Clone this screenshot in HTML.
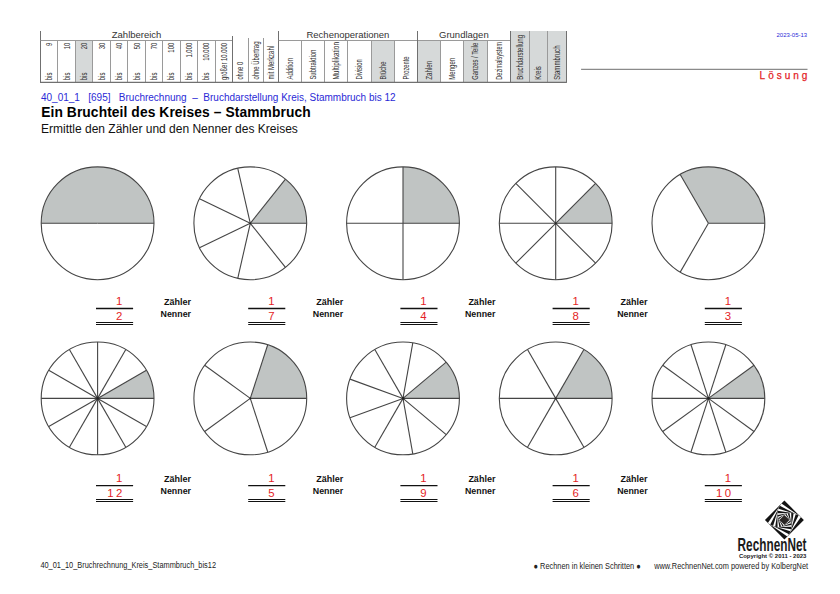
<!DOCTYPE html>
<html><head><meta charset="utf-8"><style>
html,body{margin:0;padding:0;background:#fff;}
body{width:840px;height:594px;overflow:hidden;position:relative;font-family:"Liberation Sans", sans-serif;}
svg{position:absolute;left:0;top:0;font-family:"Liberation Sans", sans-serif;}
</style></head><body>
<svg width="840" height="594" viewBox="0 0 840 594">
<rect x="75.45" y="40.50" width="17.47" height="41.80" fill="#d6d9d9"/>
<rect x="371.07" y="40.50" width="23.12" height="41.80" fill="#d6d9d9"/>
<rect x="417.30" y="40.50" width="23.27" height="41.80" fill="#d6d9d9"/>
<rect x="463.85" y="40.50" width="23.27" height="41.80" fill="#d6d9d9"/>
<rect x="510.40" y="31.00" width="56.00" height="51.30" fill="#d6d9d9"/>
<line x1="57.50" y1="40.50" x2="57.50" y2="82.30" stroke="#9a9a9a" stroke-width="1.0"/>
<line x1="75.50" y1="40.50" x2="75.50" y2="82.30" stroke="#9a9a9a" stroke-width="1.0"/>
<line x1="92.50" y1="40.50" x2="92.50" y2="82.30" stroke="#9a9a9a" stroke-width="1.0"/>
<line x1="110.50" y1="40.50" x2="110.50" y2="82.30" stroke="#9a9a9a" stroke-width="1.0"/>
<line x1="127.50" y1="40.50" x2="127.50" y2="82.30" stroke="#9a9a9a" stroke-width="1.0"/>
<line x1="145.50" y1="40.50" x2="145.50" y2="82.30" stroke="#9a9a9a" stroke-width="1.0"/>
<line x1="162.50" y1="40.50" x2="162.50" y2="82.30" stroke="#9a9a9a" stroke-width="1.0"/>
<line x1="180.50" y1="40.50" x2="180.50" y2="82.30" stroke="#9a9a9a" stroke-width="1.0"/>
<line x1="197.50" y1="40.50" x2="197.50" y2="82.30" stroke="#9a9a9a" stroke-width="1.0"/>
<line x1="215.50" y1="40.50" x2="215.50" y2="82.30" stroke="#9a9a9a" stroke-width="1.0"/>
<line x1="40.50" y1="31.00" x2="40.50" y2="82.30" stroke="#707070" stroke-width="1.0"/>
<line x1="40.50" y1="40.50" x2="232.70" y2="40.50" stroke="#9a9a9a" stroke-width="1.0"/>
<line x1="232.50" y1="36.00" x2="232.50" y2="82.30" stroke="#707070" stroke-width="1.0"/>
<line x1="248.50" y1="38.00" x2="248.50" y2="82.30" stroke="#9a9a9a" stroke-width="1.0"/>
<line x1="263.50" y1="38.00" x2="263.50" y2="82.30" stroke="#9a9a9a" stroke-width="1.0"/>
<line x1="278.50" y1="31.00" x2="278.50" y2="82.30" stroke="#707070" stroke-width="1.0"/>
<line x1="278.60" y1="40.50" x2="510.40" y2="40.50" stroke="#9a9a9a" stroke-width="1.0"/>
<line x1="301.50" y1="40.50" x2="301.50" y2="82.30" stroke="#9a9a9a" stroke-width="1.0"/>
<line x1="324.50" y1="40.50" x2="324.50" y2="82.30" stroke="#9a9a9a" stroke-width="1.0"/>
<line x1="347.50" y1="40.50" x2="347.50" y2="82.30" stroke="#9a9a9a" stroke-width="1.0"/>
<line x1="371.50" y1="40.50" x2="371.50" y2="82.30" stroke="#9a9a9a" stroke-width="1.0"/>
<line x1="394.50" y1="40.50" x2="394.50" y2="82.30" stroke="#9a9a9a" stroke-width="1.0"/>
<line x1="417.50" y1="31.00" x2="417.50" y2="82.30" stroke="#707070" stroke-width="1.0"/>
<line x1="440.50" y1="40.50" x2="440.50" y2="82.30" stroke="#9a9a9a" stroke-width="1.0"/>
<line x1="463.50" y1="40.50" x2="463.50" y2="82.30" stroke="#9a9a9a" stroke-width="1.0"/>
<line x1="487.50" y1="40.50" x2="487.50" y2="82.30" stroke="#9a9a9a" stroke-width="1.0"/>
<line x1="510.50" y1="31.00" x2="510.50" y2="82.30" stroke="#707070" stroke-width="1.0"/>
<line x1="529.50" y1="31.00" x2="529.50" y2="82.30" stroke="#9a9a9a" stroke-width="1.0"/>
<line x1="547.50" y1="31.00" x2="547.50" y2="82.30" stroke="#9a9a9a" stroke-width="1.0"/>
<line x1="566.50" y1="31.00" x2="566.50" y2="82.30" stroke="#707070" stroke-width="1.0"/>
<line x1="40.00" y1="82.30" x2="566.90" y2="82.30" stroke="#707070" stroke-width="1.3"/>
<text x="136.60" y="38.1" font-size="9.5" fill="#333" text-anchor="middle">Zahlbereich</text>
<text x="347.95" y="38.1" font-size="9.5" fill="#333" text-anchor="middle">Rechenoperationen</text>
<text x="463.85" y="38.1" font-size="9.5" fill="#333" text-anchor="middle">Grundlagen</text>
<text transform="translate(52.17,80.20) rotate(-90) scale(0.72,1)" font-size="8.2" fill="#2e2e2e" text-anchor="start">bis</text>
<text transform="translate(52.17,42.80) rotate(-90) scale(0.72,1)" font-size="8.2" fill="#2e2e2e" text-anchor="end">9</text>
<text transform="translate(69.64,80.20) rotate(-90) scale(0.72,1)" font-size="8.2" fill="#2e2e2e" text-anchor="start">bis</text>
<text transform="translate(69.64,42.80) rotate(-90) scale(0.72,1)" font-size="8.2" fill="#2e2e2e" text-anchor="end">10</text>
<text transform="translate(87.12,80.20) rotate(-90) scale(0.72,1)" font-size="8.2" fill="#2e2e2e" text-anchor="start">bis</text>
<text transform="translate(87.12,42.80) rotate(-90) scale(0.72,1)" font-size="8.2" fill="#2e2e2e" text-anchor="end">20</text>
<text transform="translate(104.59,80.20) rotate(-90) scale(0.72,1)" font-size="8.2" fill="#2e2e2e" text-anchor="start">bis</text>
<text transform="translate(104.59,42.80) rotate(-90) scale(0.72,1)" font-size="8.2" fill="#2e2e2e" text-anchor="end">30</text>
<text transform="translate(122.06,80.20) rotate(-90) scale(0.72,1)" font-size="8.2" fill="#2e2e2e" text-anchor="start">bis</text>
<text transform="translate(122.06,42.80) rotate(-90) scale(0.72,1)" font-size="8.2" fill="#2e2e2e" text-anchor="end">40</text>
<text transform="translate(139.54,80.20) rotate(-90) scale(0.72,1)" font-size="8.2" fill="#2e2e2e" text-anchor="start">bis</text>
<text transform="translate(139.54,42.80) rotate(-90) scale(0.72,1)" font-size="8.2" fill="#2e2e2e" text-anchor="end">50</text>
<text transform="translate(157.01,80.20) rotate(-90) scale(0.72,1)" font-size="8.2" fill="#2e2e2e" text-anchor="start">bis</text>
<text transform="translate(157.01,42.80) rotate(-90) scale(0.72,1)" font-size="8.2" fill="#2e2e2e" text-anchor="end">70</text>
<text transform="translate(174.48,80.20) rotate(-90) scale(0.72,1)" font-size="8.2" fill="#2e2e2e" text-anchor="start">bis</text>
<text transform="translate(174.48,42.80) rotate(-90) scale(0.72,1)" font-size="8.2" fill="#2e2e2e" text-anchor="end">100</text>
<text transform="translate(191.95,80.20) rotate(-90) scale(0.72,1)" font-size="8.2" fill="#2e2e2e" text-anchor="start">bis</text>
<text transform="translate(191.95,42.80) rotate(-90) scale(0.72,1)" font-size="8.2" fill="#2e2e2e" text-anchor="end">1.000</text>
<text transform="translate(209.43,80.20) rotate(-90) scale(0.72,1)" font-size="8.2" fill="#2e2e2e" text-anchor="start">bis</text>
<text transform="translate(209.43,42.80) rotate(-90) scale(0.72,1)" font-size="8.2" fill="#2e2e2e" text-anchor="end">10.000</text>
<text transform="translate(226.90,80.00) rotate(-90)" font-size="8.2" fill="#2e2e2e" text-anchor="start" textLength="37" lengthAdjust="spacingAndGlyphs">größer 10.000</text>
<text transform="translate(243.29,79.60) rotate(-90)" font-size="8.2" fill="#2e2e2e" text-anchor="start" textLength="17.7" lengthAdjust="spacingAndGlyphs">ohne 0</text>
<text transform="translate(258.59,79.60) rotate(-90)" font-size="8.2" fill="#2e2e2e" text-anchor="start" textLength="38.1" lengthAdjust="spacingAndGlyphs">ohne Übertrag</text>
<text transform="translate(273.89,79.60) rotate(-90)" font-size="8.2" fill="#2e2e2e" text-anchor="start" textLength="33.6" lengthAdjust="spacingAndGlyphs">mit Merkzahl</text>
<text transform="translate(293.09,79.60) rotate(-90)" font-size="8.2" fill="#2e2e2e" text-anchor="start" textLength="21.6" lengthAdjust="spacingAndGlyphs">Addition</text>
<text transform="translate(316.21,79.60) rotate(-90)" font-size="8.2" fill="#2e2e2e" text-anchor="start" textLength="29.9" lengthAdjust="spacingAndGlyphs">Subtraktion</text>
<text transform="translate(339.33,79.60) rotate(-90)" font-size="8.2" fill="#2e2e2e" text-anchor="start" textLength="37.6" lengthAdjust="spacingAndGlyphs">Multiplikation</text>
<text transform="translate(362.44,79.60) rotate(-90)" font-size="8.2" fill="#2e2e2e" text-anchor="start" textLength="20.4" lengthAdjust="spacingAndGlyphs">Division</text>
<text transform="translate(385.56,79.60) rotate(-90)" font-size="8.2" fill="#2e2e2e" text-anchor="start" textLength="18.0" lengthAdjust="spacingAndGlyphs">Brüche</text>
<text transform="translate(408.68,79.60) rotate(-90)" font-size="8.2" fill="#2e2e2e" text-anchor="start" textLength="23.1" lengthAdjust="spacingAndGlyphs">Prozente</text>
<text transform="translate(431.87,79.70) rotate(-90)" font-size="8.2" fill="#2e2e2e" text-anchor="start" textLength="18.9" lengthAdjust="spacingAndGlyphs">Zahlen</text>
<text transform="translate(455.15,79.70) rotate(-90)" font-size="8.2" fill="#2e2e2e" text-anchor="start" textLength="21.8" lengthAdjust="spacingAndGlyphs">Mengen</text>
<text transform="translate(478.42,79.70) rotate(-90)" font-size="8.2" fill="#2e2e2e" text-anchor="start" textLength="36.9" lengthAdjust="spacingAndGlyphs">Ganzes / Teile</text>
<text transform="translate(501.70,79.70) rotate(-90)" font-size="8.2" fill="#2e2e2e" text-anchor="start" textLength="37.9" lengthAdjust="spacingAndGlyphs">Dezimalsystem</text>
<text transform="translate(522.67,79.70) rotate(-90)" font-size="8.2" fill="#2e2e2e" text-anchor="start" textLength="44.7" lengthAdjust="spacingAndGlyphs">Bruchdarstellung</text>
<text transform="translate(541.34,79.70) rotate(-90)" font-size="8.2" fill="#2e2e2e" text-anchor="start" textLength="13.5" lengthAdjust="spacingAndGlyphs">Kreis</text>
<text transform="translate(560.00,79.70) rotate(-90)" font-size="8.2" fill="#2e2e2e" text-anchor="start" textLength="34.2" lengthAdjust="spacingAndGlyphs">Stammbruch</text>
<text x="807.2" y="37.2" font-size="6" fill="#2b2bd8" text-anchor="end">2023-05-13</text>
<line x1="581.10" y1="69.30" x2="807.50" y2="69.30" stroke="#8a8a8a" stroke-width="1.2"/>
<text x="759.6" y="79.1" font-size="10" fill="#e41e26" letter-spacing="3.0" stroke="#e41e26" stroke-width="0.25">Lösung</text>
<text x="41" y="100.5" font-size="10" fill="#2a2ad6" xml:space="preserve">40_01_1   [695]   Bruchrechnung  –  Bruchdarstellung Kreis, Stammbruch bis 12</text>
<text x="41.2" y="116.7" font-size="13.8" font-weight="bold" fill="#000" textLength="269.4" lengthAdjust="spacing">Ein Bruchteil des Kreises – Stammbruch</text>
<text x="41" y="133.2" font-size="12" fill="#111">Ermittle den Zähler und den Nenner des Kreises</text>
<circle cx="97.60" cy="223.30" r="56.4" fill="#fff" stroke="none"/>
<path d="M97.60,223.30 L154.00,223.30 A56.4,56.4 0 0 0 41.20,223.30 Z" fill="#c0c4c3"/>
<line x1="97.60" y1="223.30" x2="154.00" y2="223.30" stroke="#454545" stroke-width="1.1"/>
<line x1="97.60" y1="223.30" x2="41.20" y2="223.30" stroke="#454545" stroke-width="1.1"/>
<circle cx="97.60" cy="223.30" r="56.4" fill="none" stroke="#454545" stroke-width="1.1"/>
<circle cx="250.30" cy="223.30" r="56.4" fill="#fff" stroke="none"/>
<path d="M250.30,223.30 L306.70,223.30 A56.4,56.4 0 0 0 285.46,179.20 Z" fill="#c0c4c3"/>
<line x1="250.30" y1="223.30" x2="306.70" y2="223.30" stroke="#454545" stroke-width="1.1"/>
<line x1="250.30" y1="223.30" x2="285.46" y2="179.20" stroke="#454545" stroke-width="1.1"/>
<line x1="250.30" y1="223.30" x2="237.75" y2="168.31" stroke="#454545" stroke-width="1.1"/>
<line x1="250.30" y1="223.30" x2="199.49" y2="198.83" stroke="#454545" stroke-width="1.1"/>
<line x1="250.30" y1="223.30" x2="199.49" y2="247.77" stroke="#454545" stroke-width="1.1"/>
<line x1="250.30" y1="223.30" x2="237.75" y2="278.29" stroke="#454545" stroke-width="1.1"/>
<line x1="250.30" y1="223.30" x2="285.46" y2="267.40" stroke="#454545" stroke-width="1.1"/>
<circle cx="250.30" cy="223.30" r="56.4" fill="none" stroke="#454545" stroke-width="1.1"/>
<circle cx="250.30" cy="223.30" r="0.9" fill="#222"/>
<circle cx="403.00" cy="223.30" r="56.4" fill="#fff" stroke="none"/>
<path d="M403.00,223.30 L459.40,223.30 A56.4,56.4 0 0 0 403.00,166.90 Z" fill="#c0c4c3"/>
<line x1="403.00" y1="223.30" x2="459.40" y2="223.30" stroke="#454545" stroke-width="1.1"/>
<line x1="403.00" y1="223.30" x2="403.00" y2="166.90" stroke="#454545" stroke-width="1.1"/>
<line x1="403.00" y1="223.30" x2="346.60" y2="223.30" stroke="#454545" stroke-width="1.1"/>
<line x1="403.00" y1="223.30" x2="403.00" y2="279.70" stroke="#454545" stroke-width="1.1"/>
<circle cx="403.00" cy="223.30" r="56.4" fill="none" stroke="#454545" stroke-width="1.1"/>
<circle cx="555.70" cy="223.30" r="56.4" fill="#fff" stroke="none"/>
<path d="M555.70,223.30 L612.10,223.30 A56.4,56.4 0 0 0 595.58,183.42 Z" fill="#c0c4c3"/>
<line x1="555.70" y1="223.30" x2="612.10" y2="223.30" stroke="#454545" stroke-width="1.1"/>
<line x1="555.70" y1="223.30" x2="595.58" y2="183.42" stroke="#454545" stroke-width="1.1"/>
<line x1="555.70" y1="223.30" x2="555.70" y2="166.90" stroke="#454545" stroke-width="1.1"/>
<line x1="555.70" y1="223.30" x2="515.82" y2="183.42" stroke="#454545" stroke-width="1.1"/>
<line x1="555.70" y1="223.30" x2="499.30" y2="223.30" stroke="#454545" stroke-width="1.1"/>
<line x1="555.70" y1="223.30" x2="515.82" y2="263.18" stroke="#454545" stroke-width="1.1"/>
<line x1="555.70" y1="223.30" x2="555.70" y2="279.70" stroke="#454545" stroke-width="1.1"/>
<line x1="555.70" y1="223.30" x2="595.58" y2="263.18" stroke="#454545" stroke-width="1.1"/>
<circle cx="555.70" cy="223.30" r="56.4" fill="none" stroke="#454545" stroke-width="1.1"/>
<circle cx="555.70" cy="223.30" r="0.9" fill="#222"/>
<circle cx="708.40" cy="223.30" r="56.4" fill="#fff" stroke="none"/>
<path d="M708.40,223.30 L764.80,223.30 A56.4,56.4 0 0 0 680.20,174.46 Z" fill="#c0c4c3"/>
<line x1="708.40" y1="223.30" x2="764.80" y2="223.30" stroke="#454545" stroke-width="1.1"/>
<line x1="708.40" y1="223.30" x2="680.20" y2="174.46" stroke="#454545" stroke-width="1.1"/>
<line x1="708.40" y1="223.30" x2="680.20" y2="272.14" stroke="#454545" stroke-width="1.1"/>
<circle cx="708.40" cy="223.30" r="56.4" fill="none" stroke="#454545" stroke-width="1.1"/>
<circle cx="97.60" cy="398.40" r="56.4" fill="#fff" stroke="none"/>
<path d="M97.60,398.40 L154.00,398.40 A56.4,56.4 0 0 0 146.44,370.20 Z" fill="#c0c4c3"/>
<line x1="97.60" y1="398.40" x2="154.00" y2="398.40" stroke="#454545" stroke-width="1.1"/>
<line x1="97.60" y1="398.40" x2="146.44" y2="370.20" stroke="#454545" stroke-width="1.1"/>
<line x1="97.60" y1="398.40" x2="125.80" y2="349.56" stroke="#454545" stroke-width="1.1"/>
<line x1="97.60" y1="398.40" x2="97.60" y2="342.00" stroke="#454545" stroke-width="1.1"/>
<line x1="97.60" y1="398.40" x2="69.40" y2="349.56" stroke="#454545" stroke-width="1.1"/>
<line x1="97.60" y1="398.40" x2="48.76" y2="370.20" stroke="#454545" stroke-width="1.1"/>
<line x1="97.60" y1="398.40" x2="41.20" y2="398.40" stroke="#454545" stroke-width="1.1"/>
<line x1="97.60" y1="398.40" x2="48.76" y2="426.60" stroke="#454545" stroke-width="1.1"/>
<line x1="97.60" y1="398.40" x2="69.40" y2="447.24" stroke="#454545" stroke-width="1.1"/>
<line x1="97.60" y1="398.40" x2="97.60" y2="454.80" stroke="#454545" stroke-width="1.1"/>
<line x1="97.60" y1="398.40" x2="125.80" y2="447.24" stroke="#454545" stroke-width="1.1"/>
<line x1="97.60" y1="398.40" x2="146.44" y2="426.60" stroke="#454545" stroke-width="1.1"/>
<circle cx="97.60" cy="398.40" r="56.4" fill="none" stroke="#454545" stroke-width="1.1"/>
<circle cx="97.60" cy="398.40" r="1.3" fill="#222"/>
<circle cx="250.30" cy="398.40" r="56.4" fill="#fff" stroke="none"/>
<path d="M250.30,398.40 L306.70,398.40 A56.4,56.4 0 0 0 267.73,344.76 Z" fill="#c0c4c3"/>
<line x1="250.30" y1="398.40" x2="306.70" y2="398.40" stroke="#454545" stroke-width="1.1"/>
<line x1="250.30" y1="398.40" x2="267.73" y2="344.76" stroke="#454545" stroke-width="1.1"/>
<line x1="250.30" y1="398.40" x2="204.67" y2="365.25" stroke="#454545" stroke-width="1.1"/>
<line x1="250.30" y1="398.40" x2="204.67" y2="431.55" stroke="#454545" stroke-width="1.1"/>
<line x1="250.30" y1="398.40" x2="267.73" y2="452.04" stroke="#454545" stroke-width="1.1"/>
<circle cx="250.30" cy="398.40" r="56.4" fill="none" stroke="#454545" stroke-width="1.1"/>
<circle cx="250.30" cy="398.40" r="0.9" fill="#222"/>
<circle cx="403.00" cy="398.40" r="56.4" fill="#fff" stroke="none"/>
<path d="M403.00,398.40 L459.40,398.40 A56.4,56.4 0 0 0 446.20,362.15 Z" fill="#c0c4c3"/>
<line x1="403.00" y1="398.40" x2="459.40" y2="398.40" stroke="#454545" stroke-width="1.1"/>
<line x1="403.00" y1="398.40" x2="446.20" y2="362.15" stroke="#454545" stroke-width="1.1"/>
<line x1="403.00" y1="398.40" x2="412.79" y2="342.86" stroke="#454545" stroke-width="1.1"/>
<line x1="403.00" y1="398.40" x2="374.80" y2="349.56" stroke="#454545" stroke-width="1.1"/>
<line x1="403.00" y1="398.40" x2="350.00" y2="379.11" stroke="#454545" stroke-width="1.1"/>
<line x1="403.00" y1="398.40" x2="350.00" y2="417.69" stroke="#454545" stroke-width="1.1"/>
<line x1="403.00" y1="398.40" x2="374.80" y2="447.24" stroke="#454545" stroke-width="1.1"/>
<line x1="403.00" y1="398.40" x2="412.79" y2="453.94" stroke="#454545" stroke-width="1.1"/>
<line x1="403.00" y1="398.40" x2="446.20" y2="434.65" stroke="#454545" stroke-width="1.1"/>
<circle cx="403.00" cy="398.40" r="56.4" fill="none" stroke="#454545" stroke-width="1.1"/>
<circle cx="403.00" cy="398.40" r="1.3" fill="#222"/>
<circle cx="555.70" cy="398.40" r="56.4" fill="#fff" stroke="none"/>
<path d="M555.70,398.40 L612.10,398.40 A56.4,56.4 0 0 0 583.90,349.56 Z" fill="#c0c4c3"/>
<line x1="555.70" y1="398.40" x2="612.10" y2="398.40" stroke="#454545" stroke-width="1.1"/>
<line x1="555.70" y1="398.40" x2="583.90" y2="349.56" stroke="#454545" stroke-width="1.1"/>
<line x1="555.70" y1="398.40" x2="527.50" y2="349.56" stroke="#454545" stroke-width="1.1"/>
<line x1="555.70" y1="398.40" x2="499.30" y2="398.40" stroke="#454545" stroke-width="1.1"/>
<line x1="555.70" y1="398.40" x2="527.50" y2="447.24" stroke="#454545" stroke-width="1.1"/>
<line x1="555.70" y1="398.40" x2="583.90" y2="447.24" stroke="#454545" stroke-width="1.1"/>
<circle cx="555.70" cy="398.40" r="56.4" fill="none" stroke="#454545" stroke-width="1.1"/>
<circle cx="555.70" cy="398.40" r="0.9" fill="#222"/>
<circle cx="708.40" cy="398.40" r="56.4" fill="#fff" stroke="none"/>
<path d="M708.40,398.40 L764.80,398.40 A56.4,56.4 0 0 0 754.03,365.25 Z" fill="#c0c4c3"/>
<line x1="708.40" y1="398.40" x2="764.80" y2="398.40" stroke="#454545" stroke-width="1.1"/>
<line x1="708.40" y1="398.40" x2="754.03" y2="365.25" stroke="#454545" stroke-width="1.1"/>
<line x1="708.40" y1="398.40" x2="725.83" y2="344.76" stroke="#454545" stroke-width="1.1"/>
<line x1="708.40" y1="398.40" x2="690.97" y2="344.76" stroke="#454545" stroke-width="1.1"/>
<line x1="708.40" y1="398.40" x2="662.77" y2="365.25" stroke="#454545" stroke-width="1.1"/>
<line x1="708.40" y1="398.40" x2="652.00" y2="398.40" stroke="#454545" stroke-width="1.1"/>
<line x1="708.40" y1="398.40" x2="662.77" y2="431.55" stroke="#454545" stroke-width="1.1"/>
<line x1="708.40" y1="398.40" x2="690.97" y2="452.04" stroke="#454545" stroke-width="1.1"/>
<line x1="708.40" y1="398.40" x2="725.83" y2="452.04" stroke="#454545" stroke-width="1.1"/>
<line x1="708.40" y1="398.40" x2="754.03" y2="431.55" stroke="#454545" stroke-width="1.1"/>
<circle cx="708.40" cy="398.40" r="56.4" fill="none" stroke="#454545" stroke-width="1.1"/>
<circle cx="708.40" cy="398.40" r="1.3" fill="#222"/>
<line x1="96.00" y1="308.50" x2="133.10" y2="308.50" stroke="#111" stroke-width="1.3"/>
<line x1="96.00" y1="322.50" x2="133.10" y2="322.50" stroke="#111" stroke-width="1.1"/>
<line x1="96.00" y1="324.50" x2="133.10" y2="324.50" stroke="#111" stroke-width="1.1"/>
<text x="122.30" y="304.80" font-size="11.4" fill="#e41e26" text-anchor="end">1</text>
<text x="122.30" y="320.10" font-size="11.4" fill="#e41e26" text-anchor="end">2</text>
<text x="191.00" y="305.30" font-size="9" font-weight="bold" fill="#111" text-anchor="end">Zähler</text>
<text x="191.00" y="317.20" font-size="9" font-weight="bold" fill="#111" text-anchor="end" textLength="30.4" lengthAdjust="spacingAndGlyphs">Nenner</text>
<line x1="248.20" y1="308.50" x2="285.30" y2="308.50" stroke="#111" stroke-width="1.3"/>
<line x1="248.20" y1="322.50" x2="285.30" y2="322.50" stroke="#111" stroke-width="1.1"/>
<line x1="248.20" y1="324.50" x2="285.30" y2="324.50" stroke="#111" stroke-width="1.1"/>
<text x="274.50" y="304.80" font-size="11.4" fill="#e41e26" text-anchor="end">1</text>
<text x="274.50" y="320.10" font-size="11.4" fill="#e41e26" text-anchor="end">7</text>
<text x="343.20" y="305.30" font-size="9" font-weight="bold" fill="#111" text-anchor="end">Zähler</text>
<text x="343.20" y="317.20" font-size="9" font-weight="bold" fill="#111" text-anchor="end" textLength="30.4" lengthAdjust="spacingAndGlyphs">Nenner</text>
<line x1="400.40" y1="308.50" x2="437.50" y2="308.50" stroke="#111" stroke-width="1.3"/>
<line x1="400.40" y1="322.50" x2="437.50" y2="322.50" stroke="#111" stroke-width="1.1"/>
<line x1="400.40" y1="324.50" x2="437.50" y2="324.50" stroke="#111" stroke-width="1.1"/>
<text x="426.70" y="304.80" font-size="11.4" fill="#e41e26" text-anchor="end">1</text>
<text x="426.70" y="320.10" font-size="11.4" fill="#e41e26" text-anchor="end">4</text>
<text x="495.40" y="305.30" font-size="9" font-weight="bold" fill="#111" text-anchor="end">Zähler</text>
<text x="495.40" y="317.20" font-size="9" font-weight="bold" fill="#111" text-anchor="end" textLength="30.4" lengthAdjust="spacingAndGlyphs">Nenner</text>
<line x1="552.60" y1="308.50" x2="589.70" y2="308.50" stroke="#111" stroke-width="1.3"/>
<line x1="552.60" y1="322.50" x2="589.70" y2="322.50" stroke="#111" stroke-width="1.1"/>
<line x1="552.60" y1="324.50" x2="589.70" y2="324.50" stroke="#111" stroke-width="1.1"/>
<text x="578.90" y="304.80" font-size="11.4" fill="#e41e26" text-anchor="end">1</text>
<text x="578.90" y="320.10" font-size="11.4" fill="#e41e26" text-anchor="end">8</text>
<text x="647.60" y="305.30" font-size="9" font-weight="bold" fill="#111" text-anchor="end">Zähler</text>
<text x="647.60" y="317.20" font-size="9" font-weight="bold" fill="#111" text-anchor="end" textLength="30.4" lengthAdjust="spacingAndGlyphs">Nenner</text>
<line x1="704.80" y1="308.50" x2="741.90" y2="308.50" stroke="#111" stroke-width="1.3"/>
<line x1="704.80" y1="322.50" x2="741.90" y2="322.50" stroke="#111" stroke-width="1.1"/>
<line x1="704.80" y1="324.50" x2="741.90" y2="324.50" stroke="#111" stroke-width="1.1"/>
<text x="731.10" y="304.80" font-size="11.4" fill="#e41e26" text-anchor="end">1</text>
<text x="731.10" y="320.10" font-size="11.4" fill="#e41e26" text-anchor="end">3</text>
<line x1="96.00" y1="485.60" x2="133.10" y2="485.60" stroke="#111" stroke-width="1.3"/>
<line x1="96.00" y1="499.50" x2="133.10" y2="499.50" stroke="#111" stroke-width="1.1"/>
<line x1="96.00" y1="501.50" x2="133.10" y2="501.50" stroke="#111" stroke-width="1.1"/>
<text x="122.30" y="481.90" font-size="11.4" fill="#e41e26" text-anchor="end">1</text>
<text x="124.60" y="497.20" font-size="11.4" fill="#e41e26" text-anchor="end" letter-spacing="2.3">12</text>
<text x="191.00" y="482.40" font-size="9" font-weight="bold" fill="#111" text-anchor="end">Zähler</text>
<text x="191.00" y="494.30" font-size="9" font-weight="bold" fill="#111" text-anchor="end" textLength="30.4" lengthAdjust="spacingAndGlyphs">Nenner</text>
<line x1="248.20" y1="485.60" x2="285.30" y2="485.60" stroke="#111" stroke-width="1.3"/>
<line x1="248.20" y1="499.50" x2="285.30" y2="499.50" stroke="#111" stroke-width="1.1"/>
<line x1="248.20" y1="501.50" x2="285.30" y2="501.50" stroke="#111" stroke-width="1.1"/>
<text x="274.50" y="481.90" font-size="11.4" fill="#e41e26" text-anchor="end">1</text>
<text x="274.50" y="497.20" font-size="11.4" fill="#e41e26" text-anchor="end">5</text>
<text x="343.20" y="482.40" font-size="9" font-weight="bold" fill="#111" text-anchor="end">Zähler</text>
<text x="343.20" y="494.30" font-size="9" font-weight="bold" fill="#111" text-anchor="end" textLength="30.4" lengthAdjust="spacingAndGlyphs">Nenner</text>
<line x1="400.40" y1="485.60" x2="437.50" y2="485.60" stroke="#111" stroke-width="1.3"/>
<line x1="400.40" y1="499.50" x2="437.50" y2="499.50" stroke="#111" stroke-width="1.1"/>
<line x1="400.40" y1="501.50" x2="437.50" y2="501.50" stroke="#111" stroke-width="1.1"/>
<text x="426.70" y="481.90" font-size="11.4" fill="#e41e26" text-anchor="end">1</text>
<text x="426.70" y="497.20" font-size="11.4" fill="#e41e26" text-anchor="end">9</text>
<text x="495.40" y="482.40" font-size="9" font-weight="bold" fill="#111" text-anchor="end">Zähler</text>
<text x="495.40" y="494.30" font-size="9" font-weight="bold" fill="#111" text-anchor="end" textLength="30.4" lengthAdjust="spacingAndGlyphs">Nenner</text>
<line x1="552.60" y1="485.60" x2="589.70" y2="485.60" stroke="#111" stroke-width="1.3"/>
<line x1="552.60" y1="499.50" x2="589.70" y2="499.50" stroke="#111" stroke-width="1.1"/>
<line x1="552.60" y1="501.50" x2="589.70" y2="501.50" stroke="#111" stroke-width="1.1"/>
<text x="578.90" y="481.90" font-size="11.4" fill="#e41e26" text-anchor="end">1</text>
<text x="578.90" y="497.20" font-size="11.4" fill="#e41e26" text-anchor="end">6</text>
<text x="647.60" y="482.40" font-size="9" font-weight="bold" fill="#111" text-anchor="end">Zähler</text>
<text x="647.60" y="494.30" font-size="9" font-weight="bold" fill="#111" text-anchor="end" textLength="30.4" lengthAdjust="spacingAndGlyphs">Nenner</text>
<line x1="704.80" y1="485.60" x2="741.90" y2="485.60" stroke="#111" stroke-width="1.3"/>
<line x1="704.80" y1="499.50" x2="741.90" y2="499.50" stroke="#111" stroke-width="1.1"/>
<line x1="704.80" y1="501.50" x2="741.90" y2="501.50" stroke="#111" stroke-width="1.1"/>
<text x="731.10" y="481.90" font-size="11.4" fill="#e41e26" text-anchor="end">1</text>
<text x="733.40" y="497.20" font-size="11.4" fill="#e41e26" text-anchor="end" letter-spacing="2.3">10</text>
<text x="40.4" y="568.1" font-size="8.3" fill="#222" textLength="175.6" lengthAdjust="spacingAndGlyphs">40_01_10_Bruchrechnung_Kreis_Stammbruch_bis12</text>
<text x="533.6" y="568.7" font-size="8.4" fill="#222" textLength="107.1" lengthAdjust="spacingAndGlyphs">● Rechnen in kleinen Schritten ●</text>
<text x="654.2" y="568.7" font-size="8.4" fill="#222" textLength="153.9" lengthAdjust="spacingAndGlyphs">www.RechnenNet.com powered by KolbergNet</text>
<text x="737.6" y="551.2" font-size="17.7" font-weight="bold" fill="#1a1a1a" textLength="68.8" lengthAdjust="spacingAndGlyphs">RechnenNet</text>
<text x="738.9" y="557.7" font-size="5.8" font-weight="bold" fill="#1a1a1a" textLength="67.5" lengthAdjust="spacingAndGlyphs">Copyright © 2011 - 2023</text>
<rect x="-13.75" y="-13.75" width="27.51" height="27.51" fill="#141414" transform="translate(784.4,520.0) rotate(45.00)"/>
<rect x="-11.87" y="-11.87" width="23.74" height="23.74" fill="#fff" transform="translate(784.4,520.0) rotate(35.00)"/>
<rect x="-10.51" y="-10.51" width="21.02" height="21.02" fill="#141414" transform="translate(784.4,520.0) rotate(27.00)"/>
<rect x="-9.07" y="-9.07" width="18.15" height="18.15" fill="#fff" transform="translate(784.4,520.0) rotate(17.00)"/>
<rect x="-8.03" y="-8.03" width="16.07" height="16.07" fill="#141414" transform="translate(784.4,520.0) rotate(9.00)"/>
<rect x="-6.93" y="-6.93" width="13.87" height="13.87" fill="#fff" transform="translate(784.4,520.0) rotate(-1.00)"/>
<rect x="-6.14" y="-6.14" width="12.28" height="12.28" fill="#141414" transform="translate(784.4,520.0) rotate(-9.00)"/>
<rect x="-5.30" y="-5.30" width="10.60" height="10.60" fill="#fff" transform="translate(784.4,520.0) rotate(-19.00)"/>
<rect x="-4.69" y="-4.69" width="9.39" height="9.39" fill="#141414" transform="translate(784.4,520.0) rotate(-27.00)"/>
<rect x="-4.05" y="-4.05" width="8.10" height="8.10" fill="#fff" transform="translate(784.4,520.0) rotate(-37.00)"/>
<rect x="-3.59" y="-3.59" width="7.17" height="7.17" fill="#2a2624" transform="translate(784.4,520.0) rotate(-45.00)"/>
</svg>
</body></html>
